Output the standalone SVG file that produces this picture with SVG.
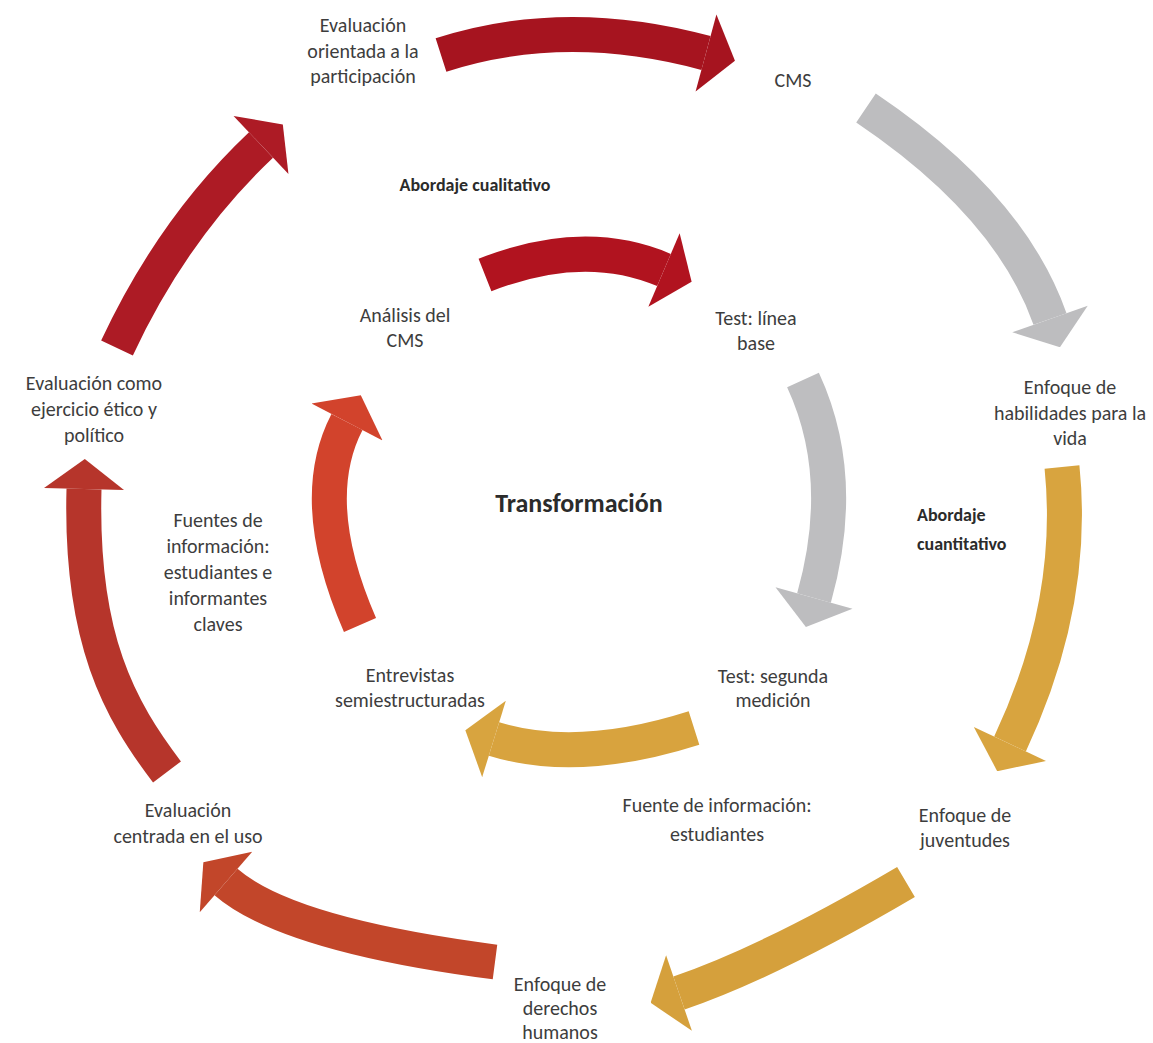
<svg xmlns="http://www.w3.org/2000/svg" xmlns:xlink="http://www.w3.org/1999/xlink" width="1153" height="1043" viewBox="0 0 1153 1043">
  <style>
    .lbl { font-family: Carlito, Lato, "Noto Sans", sans-serif; font-size: 20px; fill: #3d3d3d; text-anchor: middle; }
    .bold { font-weight: bold; font-size: 18px; fill: #2b2b2b; }
    .title { font-family: Carlito, Lato, "Noto Sans", sans-serif; font-weight: bold; font-size: 26px; fill: #2b2b2b; text-anchor: middle; }
    .arc { fill: none; stroke-width: 35; stroke-linecap: butt; }
  </style>
  <defs>
    <!-- shared arrowhead: base across the shaft end, tip ahead -->
    <path id="head" d="M0,-40 L30,0 L0,40 Z"/>
    <marker id="mRed1" markerUnits="userSpaceOnUse" viewBox="-1 -40 31 80" markerWidth="31" markerHeight="80" refX="0" refY="0" orient="auto"><use xlink:href="#head" fill="#A6141F"/></marker>
    <marker id="mRed2" markerUnits="userSpaceOnUse" viewBox="-1 -40 31 80" markerWidth="31" markerHeight="80" refX="0" refY="0" orient="auto"><use xlink:href="#head" fill="#AD1B25"/></marker>
    <marker id="mBrick" markerUnits="userSpaceOnUse" viewBox="-1 -40 31 80" markerWidth="31" markerHeight="80" refX="0" refY="0" orient="auto"><use xlink:href="#head" fill="#B6352B"/></marker>
    <marker id="mRust" markerUnits="userSpaceOnUse" viewBox="-1 -40 31 80" markerWidth="31" markerHeight="80" refX="0" refY="0" orient="auto"><use xlink:href="#head" fill="#C2462A"/></marker>
    <marker id="mGold1" markerUnits="userSpaceOnUse" viewBox="-1 -40 31 80" markerWidth="31" markerHeight="80" refX="0" refY="0" orient="auto"><use xlink:href="#head" fill="#D5A03C"/></marker>
    <marker id="mGold2" markerUnits="userSpaceOnUse" viewBox="-1 -40 31 80" markerWidth="31" markerHeight="80" refX="0" refY="0" orient="auto"><use xlink:href="#head" fill="#D8A43F"/></marker>
    <marker id="mGray" markerUnits="userSpaceOnUse" viewBox="-1 -40 31 80" markerWidth="31" markerHeight="80" refX="0" refY="0" orient="auto"><use xlink:href="#head" fill="#BDBDBF"/></marker>
    <marker id="mRed3" markerUnits="userSpaceOnUse" viewBox="-1 -40 31 80" markerWidth="31" markerHeight="80" refX="0" refY="0" orient="auto"><use xlink:href="#head" fill="#B1131F"/></marker>
    <marker id="mOrange" markerUnits="userSpaceOnUse" viewBox="-1 -40 31 80" markerWidth="31" markerHeight="80" refX="0" refY="0" orient="auto"><use xlink:href="#head" fill="#D2432C"/></marker>
  </defs>

  <rect width="1153" height="1043" fill="#ffffff"/>

  <!-- curved arrows of the outer and inner cycles -->
  <g id="connectors">
    <path class="arc" stroke="#A6141F" marker-end="url(#mRed1)" d="M441,55 Q565,15 706,53"/>
    <path class="arc" stroke="#BDBDBF" marker-end="url(#mGray)" d="M866,108 Q1010,205 1050,319"/>
    <path class="arc" stroke="#D8A43F" marker-end="url(#mGold2)" d="M1062,467 Q1076,604 1010,744"/>
    <path class="arc" stroke="#D5A03C" marker-end="url(#mGold1)" d="M906,882 Q770,962 679,993"/>
    <path class="arc" stroke="#C2462A" marker-end="url(#mRust)" d="M495,962 Q287,935 226,882"/>
    <path class="arc" stroke="#B6352B" marker-end="url(#mBrick)" d="M167,772 C120,710 80,640 84,489"/>
    <path class="arc" stroke="#AD1B25" marker-end="url(#mRed2)" d="M117,348 Q173,228 261,145"/>

    <path class="arc" stroke="#B1131F" marker-end="url(#mRed3)" d="M485,275 Q584,236 664,270"/>
    <path class="arc" stroke="#BEBEC0" marker-end="url(#mGray)" d="M803,380 Q848,477 814,598"/>
    <path class="arc" stroke="#D8A33E" marker-end="url(#mGold2)" d="M694,728 Q578,765 494,739"/>
    <path class="arc" stroke="#D2432C" marker-end="url(#mOrange)" d="M360,625 Q306,501 347,422"/>
  </g>

  <!-- outer cycle -->
  <g id="participacion"><text class="lbl" x="363" y="32">Evaluación</text><text class="lbl" x="363" y="57.5">orientada a la</text><text class="lbl" x="363" y="83">participación</text></g>
  <g id="cms"><text class="lbl" x="793" y="87">CMS</text></g>
  <g id="habilidades"><text class="lbl" x="1070" y="394">Enfoque de</text><text class="lbl" x="1070" y="419.5">habilidades para la</text><text class="lbl" x="1070" y="445">vida</text></g>
  <g id="juventudes"><text class="lbl" x="965" y="822">Enfoque de</text><text class="lbl" x="965" y="847">juventudes</text></g>
  <g id="derechos"><text class="lbl" x="560" y="991">Enfoque de</text><text class="lbl" x="560" y="1015">derechos</text><text class="lbl" x="560" y="1039">humanos</text></g>
  <g id="uso"><text class="lbl" x="188" y="817">Evaluación</text><text class="lbl" x="188" y="843">centrada en el uso</text></g>
  <g id="etico"><text class="lbl" x="94" y="390">Evaluación como</text><text class="lbl" x="94" y="416">ejercicio ético y</text><text class="lbl" x="94" y="442">político</text></g>

  <!-- inner cycle -->
  <g id="analisis"><text class="lbl" x="405" y="322">Análisis del</text><text class="lbl" x="405" y="347">CMS</text></g>
  <g id="linea-base"><text class="lbl" x="756" y="325">Test: línea</text><text class="lbl" x="756" y="350">base</text></g>
  <g id="segunda"><text class="lbl" x="773" y="683">Test: segunda</text><text class="lbl" x="773" y="707">medición</text></g>
  <g id="entrevistas"><text class="lbl" x="410" y="682">Entrevistas</text><text class="lbl" x="410" y="707">semiestructuradas</text></g>

  <!-- side notes -->
  <g id="cualitativo"><text class="lbl bold" x="475" y="191">Abordaje cualitativo</text></g>
  <g id="cuantitativo"><text class="lbl bold" x="917" y="521" style="text-anchor:start">Abordaje</text><text class="lbl bold" x="917" y="550" style="text-anchor:start">cuantitativo</text></g>
  <g id="fuente-estudiantes"><text class="lbl" x="717" y="812">Fuente de información:</text><text class="lbl" x="717" y="841">estudiantes</text></g>
  <g id="fuentes-claves"><text class="lbl" x="218" y="527">Fuentes de</text><text class="lbl" x="218" y="553">información:</text><text class="lbl" x="218" y="579">estudiantes e</text><text class="lbl" x="218" y="605">informantes</text><text class="lbl" x="218" y="631">claves</text></g>

  <g id="transformacion"><text class="title" x="579" y="512">Transformación</text></g>
</svg>
